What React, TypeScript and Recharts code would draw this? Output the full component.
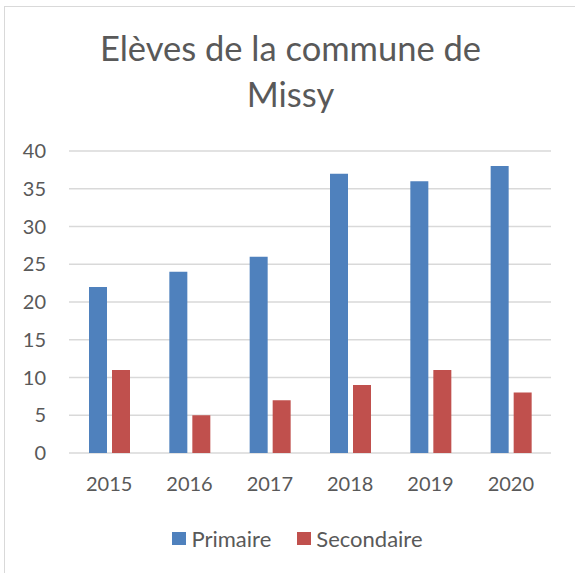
import { BarChart, Bar, XAxis, YAxis, CartesianGrid, Legend } from "recharts";

const years = ["2015", "2016", "2017", "2018", "2019", "2020"];
const primaire = [22, 24, 26, 37, 36, 38];
const secondaire = [11, 5, 7, 9, 11, 8];
const yTicks = [0, 5, 10, 15, 20, 25, 30, 35, 40];

const chartData = years.map((year, i) => ({
  year,
  primaire: primaire[i],
  secondaire: secondaire[i],
}));

const FONT = "Lato, 'Open Sans', sans-serif";
const TEXT = "#595959";

const LegendBox = (props: any) => {
  const items = props.payload || [];
  return (
    <div style={{ height: 30, display: "flex", justifyContent: "center", alignItems: "center", paddingLeft: 20, fontFamily: FONT, fontSize: 22, color: TEXT }}>
      {items.map((it: any, i: number) => (
        <div key={it.value} style={{ display: "flex", alignItems: "center", marginLeft: i ? 26 : 0 }}>
          <span style={{ width: 14, height: 13, background: it.color, display: "inline-block", marginRight: 5 }} />
          <span>{it.value}</span>
        </div>
      ))}
    </div>
  );
};

const App = () => {
  return (
    <div style={{ position: "absolute", left: 0, top: 0, width: 575, height: 573, background: "#fff", overflow: "hidden" }}>
      <div style={{ position: "absolute", left: 4, top: 6, width: 600, height: 600, borderLeft: "1.5px solid #d9d9d9", borderTop: "1.5px solid #d9d9d9" }} />
      <div style={{ position: "absolute", left: 4, top: 25, width: 573, textAlign: "center", fontFamily: FONT, fontSize: 34.5, lineHeight: "46px", color: TEXT }}>
        Elèves de la commune de
        <br />
        Missy
      </div>
      <div style={{ position: "absolute", left: 0, top: 0 }}>
        <BarChart width={575} height={573} data={chartData} margin={{ top: 151, right: 24, bottom: 60, left: 0 }} barSize={18} barGap={5}>
          <CartesianGrid vertical={false} stroke="#d9d9d9" strokeWidth={1.3} />
          <XAxis dataKey="year" axisLine={false} tickLine={false} tickMargin={18} height={30} tick={{ fontSize: 20, fill: TEXT, fontFamily: FONT }} />
          <YAxis width={69} domain={[0, 40]} ticks={yTicks} axisLine={false} tickLine={false} tickMargin={17} tick={{ fontSize: 20, fill: TEXT, fontFamily: FONT }} />
          <Bar dataKey="primaire" name="Primaire" fill="#4f81bd" isAnimationActive={false} />
          <Bar dataKey="secondaire" name="Secondaire" fill="#c0504d" isAnimationActive={false} />
          <Legend verticalAlign="bottom" content={<LegendBox />} wrapperStyle={{ bottom: 20, left: 0, width: 575 }} />
        </BarChart>
      </div>
    </div>
  );
};

export default App;
